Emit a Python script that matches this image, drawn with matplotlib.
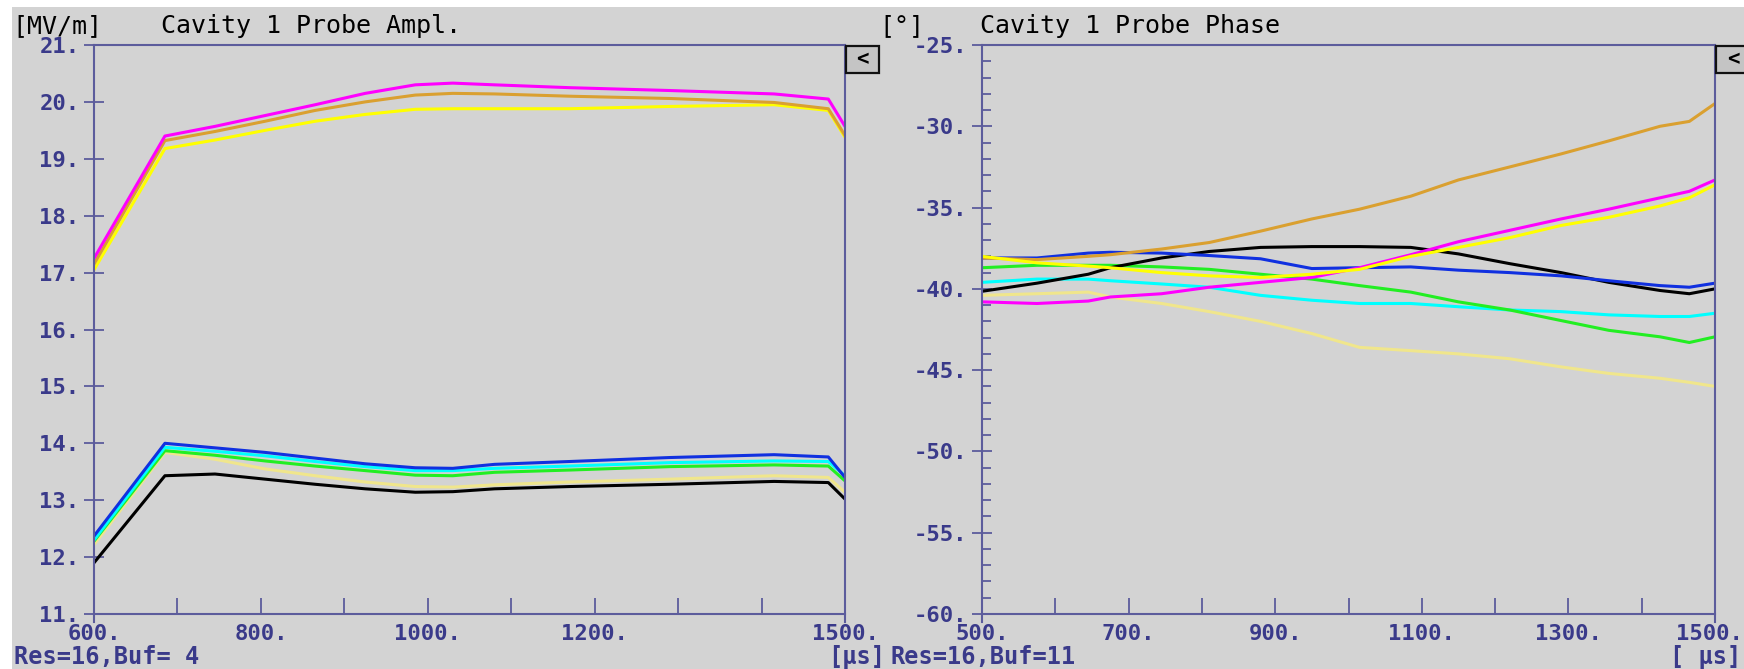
import matplotlib
matplotlib.use('Agg')
import matplotlib.pyplot as plt
from matplotlib.patches import Rectangle
from matplotlib.transforms import ScaledTranslation

# ---- data ----
amp_t = [600, 685, 745, 805, 865, 925, 985, 1030, 1080, 1170, 1290, 1415, 1480, 1500]
amp_magenta = [17.25, 19.40, 19.57, 19.76, 19.95, 20.15, 20.30, 20.33, 20.30, 20.25, 20.20, 20.14, 20.05, 19.57]
amp_orange = [17.15, 19.32, 19.48, 19.66, 19.85, 20.00, 20.12, 20.15, 20.14, 20.10, 20.06, 19.99, 19.88, 19.41]
amp_yellow = [17.05, 19.18, 19.33, 19.50, 19.66, 19.78, 19.87, 19.88, 19.88, 19.88, 19.92, 19.95, 19.85, 19.38]
amp_blue = [12.37, 14.00, 13.92, 13.84, 13.74, 13.64, 13.57, 13.56, 13.63, 13.68, 13.75, 13.80, 13.76, 13.40]
amp_cyan = [12.30, 13.93, 13.86, 13.78, 13.68, 13.59, 13.52, 13.52, 13.56, 13.60, 13.66, 13.69, 13.68, 13.43]
amp_green = [12.28, 13.87, 13.79, 13.69, 13.60, 13.52, 13.44, 13.43, 13.49, 13.53, 13.59, 13.62, 13.60, 13.34]
amp_khaki = [12.22, 13.84, 13.72, 13.55, 13.43, 13.32, 13.24, 13.23, 13.27, 13.32, 13.37, 13.43, 13.40, 13.14]
amp_black = [11.90, 13.43, 13.46, 13.37, 13.28, 13.20, 13.14, 13.15, 13.20, 13.24, 13.28, 13.33, 13.31, 13.02]

ph_t = [500, 575, 645, 675, 745, 810, 880, 950, 1015, 1085, 1150, 1220, 1290, 1355, 1425, 1465, 1500]
ph_orange = [-38.1, -38.2, -38.0, -37.9, -37.55, -37.15, -36.45, -35.7, -35.1, -34.3, -33.3, -32.5, -31.7, -30.9, -30.0, -29.7, -28.6]
ph_magenta = [-40.8, -40.9, -40.75, -40.5, -40.3, -39.9, -39.6, -39.3, -38.7, -37.9, -37.1, -36.4, -35.7, -35.1, -34.4, -34.0, -33.3]
ph_yellow = [-38.0, -38.4, -38.6, -38.7, -39.0, -39.2, -39.3, -39.1, -38.8, -38.0, -37.45, -36.85, -36.1, -35.6, -34.9, -34.4, -33.6]
ph_black = [-40.15, -39.65, -39.1, -38.7, -38.1, -37.7, -37.45, -37.4, -37.4, -37.45, -37.85, -38.45, -39.0, -39.6, -40.1, -40.3, -40.0]
ph_blue = [-38.1, -38.1, -37.8, -37.75, -37.8, -37.95, -38.15, -38.75, -38.7, -38.65, -38.85, -39.0, -39.2, -39.5, -39.8, -39.9, -39.65]
ph_cyan = [-39.6, -39.4, -39.4, -39.5, -39.7, -39.9, -40.4, -40.7, -40.9, -40.9, -41.1, -41.3, -41.4, -41.6, -41.7, -41.7, -41.5]
ph_green = [-38.7, -38.55, -38.55, -38.55, -38.65, -38.8, -39.1, -39.4, -39.8, -40.2, -40.8, -41.3, -41.95, -42.55, -42.95, -43.3, -42.95]
ph_khaki = [-40.4, -40.3, -40.2, -40.5, -40.9, -41.4, -42.0, -42.75, -43.6, -43.8, -44.0, -44.3, -44.8, -45.2, -45.5, -45.75, -46.0]

amp_xticks = [600, 800, 1000, 1200, 1500]
ph_xticks = [500, 700, 900, 1100, 1300, 1500]
amp_yticks = list(range(11, 22))
ph_yticks = list(range(-60, -24, 5))

colors = {'khaki': '#f0e68c', 'cyan': '#00ffff', 'green': '#22ee22', 'black': '#000000',
          'blue': '#1030e0', 'magenta': '#ff00ff', 'orange': '#daa030', 'yellow': '#ffff00'}

BG = '#d3d3d3'
SPINE = '#5c5c9c'
TICKC = '#3a3a8a'
MONO = 'DejaVu Sans Mono'

W, H = 1744, 669
fig = plt.figure(figsize=(W / 100, H / 100), dpi=100)
fig.patch.set_facecolor('white')
fig.add_artist(Rectangle((12 / W, 0), 1, 1 - 7 / H, transform=fig.transFigure,
                         facecolor=BG, edgecolor='none', zorder=-10))


def px_axes(x0, y0, x1, y1):
    return fig.add_axes([x0 / W, 1 - y1 / H, (x1 - x0) / W, (y1 - y0) / H])


ax1 = px_axes(94, 45, 845, 614)
ax2 = px_axes(982, 45, 1715, 614)


def style(ax, xticks, yticks, xlim, ylim, yminor=None):
    ax.set_facecolor(BG)
    ax.set_xlim(*xlim)
    ax.set_ylim(*ylim)
    for s in ax.spines.values():
        s.set_color(SPINE)
        s.set_linewidth(1.5)
    # the side lines run a little below the bottom axis
    ext = (ylim[1] - ylim[0]) * 8 / 569
    ax.spines['left'].set_bounds(ylim[0] - ext, ylim[1])
    ax.spines['right'].set_bounds(ylim[0] - ext, ylim[1])
    ax.set_xticks(xticks)
    ax.set_xticklabels([f'{v}.' for v in xticks])
    ax.set_xticks(range(xlim[0], xlim[1] + 1, 100), minor=True)
    ax.set_yticks(yticks)
    ax.set_yticklabels([f'{v}.' for v in yticks])
    if yminor is not None:
        ax.set_yticks(yminor, minor=True)
    ax.tick_params(axis='x', which='both', direction='in', length=11.5, width=1.3,
                   color=SPINE, labelcolor=TICKC, pad=7)
    ax.tick_params(axis='y', which='major', direction='inout', length=15, width=1.3,
                   color=SPINE, labelcolor=TICKC, pad=3)
    ax.tick_params(axis='y', which='minor', direction='in', length=6.5, width=1.3, color=SPINE)
    for lab in ax.get_xticklabels() + ax.get_yticklabels():
        lab.set_family(MONO)
        lab.set_fontsize(16)
        lab.set_fontweight('bold')


style(ax1, amp_xticks, amp_yticks, (600, 1500), (11, 21))
style(ax2, ph_xticks, ph_yticks, (500, 1500), (-60, -25), yminor=range(-60, -24, 1))

# keep the last phase-axis label inside the picture
last = ax2.get_xticklabels()[-1]
last.set_transform(last.get_transform() + ScaledTranslation(-6 / 100, 0, fig.dpi_scale_trans))

lw = 2.2
amp_series = [('khaki', amp_khaki), ('green', amp_green), ('cyan', amp_cyan), ('blue', amp_blue),
              ('black', amp_black), ('yellow', amp_yellow), ('orange', amp_orange), ('magenta', amp_magenta)]
for name, vals in amp_series:
    ax1.plot(amp_t, vals, color=colors[name], lw=lw)

ph_series = [('khaki', ph_khaki), ('cyan', ph_cyan), ('green', ph_green), ('black', ph_black),
             ('blue', ph_blue), ('orange', ph_orange), ('magenta', ph_magenta), ('yellow', ph_yellow)]
for name, vals in ph_series:
    ax2.plot(ph_t, vals, color=colors[name], lw=lw)


def ftext(x, y, s, **kw):
    kw.setdefault('family', MONO)
    fig.text(x / W, 1 - y / H, s, va='baseline', **kw)


ftext(12, 33, '[MV/m]', fontsize=18)
ftext(161, 33, 'Cavity 1 Probe Ampl.', fontsize=18)
ftext(879, 33, '[°]', fontsize=18)
ftext(980, 33, 'Cavity 1 Probe Phase', fontsize=18)
ftext(14, 664, 'Res=16,Buf= 4', fontsize=17, color=TICKC, fontweight='bold')
ftext(828, 664, '[µs]', fontsize=17, color=TICKC, fontweight='bold')
ftext(890, 664, 'Res=16,Buf=11', fontsize=17, color=TICKC, fontweight='bold')
ftext(1670, 664, '[ µs]', fontsize=17, color=TICKC, fontweight='bold')


def button(x0, y0, w, h):
    fig.add_artist(Rectangle((x0 / W, 1 - (y0 + h) / H), w / W, h / H, transform=fig.transFigure,
                             facecolor='#c4c4c4', edgecolor='#111111', lw=1.6))
    fig.text((x0 + w / 2) / W, 1 - (y0 + h / 2) / H, '<', ha='center', va='center',
             family=MONO, fontsize=15, fontweight='bold', color='black')


button(846, 46, 33, 27)
button(1716, 46, 34, 27)

fig.savefig('out.png', dpi=100, facecolor=fig.get_facecolor())
